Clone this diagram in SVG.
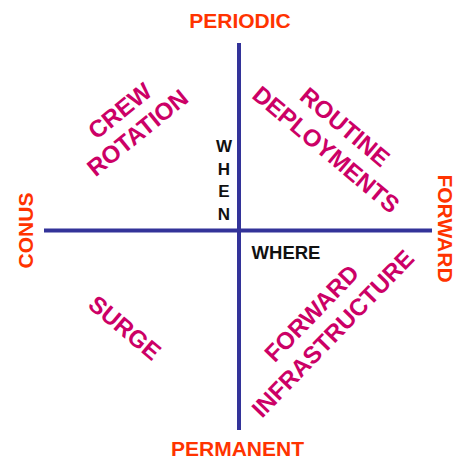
<svg xmlns="http://www.w3.org/2000/svg" width="457" height="460" viewBox="0 0 457 460">
  <style>
    .axis { stroke: #333399; stroke-width: 4; fill: none; }
    .pole { font-family: "Liberation Sans", Arial, sans-serif; font-weight: bold; font-size: 21px; fill: #FF3300; text-anchor: middle; }
    .dim { font-family: "Liberation Sans", Arial, sans-serif; font-weight: bold; fill: #111111; text-anchor: middle; }
    .quad { font-family: "Liberation Sans", Arial, sans-serif; font-weight: bold; font-size: 24px; fill: #CC0066; text-anchor: middle; }
  </style>
  <rect width="457" height="460" fill="#ffffff"/>
  <g id="connectors">
    <line class="axis" x1="239" y1="43" x2="239" y2="430"/>
    <line class="axis" x1="44" y1="230.5" x2="432" y2="230.5"/>
  </g>
  <g id="periodic"><text class="pole" x="240" y="28">PERIODIC</text></g>
  <g id="permanent"><text class="pole" x="237.5" y="456">PERMANENT</text></g>
  <g id="conus"><text class="pole" transform="translate(32.5,230.5) rotate(-90)" x="0" y="0">CONUS</text></g>
  <g id="forward"><text class="pole" transform="translate(437.5,228.5) rotate(90)" x="0" y="0">FORWARD</text></g>
  <g id="when">
    <text class="dim" font-size="17" x="224" y="152">W</text>
    <text class="dim" font-size="17" x="224" y="175">H</text>
    <text class="dim" font-size="17" x="224" y="197">E</text>
    <text class="dim" font-size="17" x="224" y="220">N</text>
  </g>
  <g id="where"><text class="dim" font-size="18.5" x="286" y="259">WHERE</text></g>
  <g id="crew-rotation" transform="translate(128.5,121.5) rotate(-39)">
    <text class="quad" x="0" y="-5.5">CREW</text>
    <text class="quad" x="0" y="22.7">ROTATION</text>
  </g>
  <g id="routine-deployments" transform="translate(335.75,138) rotate(40)">
    <text class="quad" x="0" y="-6.1">ROUTINE</text>
    <text class="quad" x="0" y="23.3">DEPLOYMENTS</text>
  </g>
  <g id="surge" transform="translate(125,327.5) rotate(40)">
    <text class="quad" x="0" y="8.6">SURGE</text>
  </g>
  <g id="forward-infrastructure" transform="translate(322,323.25) rotate(-46)">
    <text class="quad" x="0" y="-6">FORWARD</text>
    <text class="quad" x="0" y="23.3">INFRASTRUCTURE</text>
  </g>
</svg>
